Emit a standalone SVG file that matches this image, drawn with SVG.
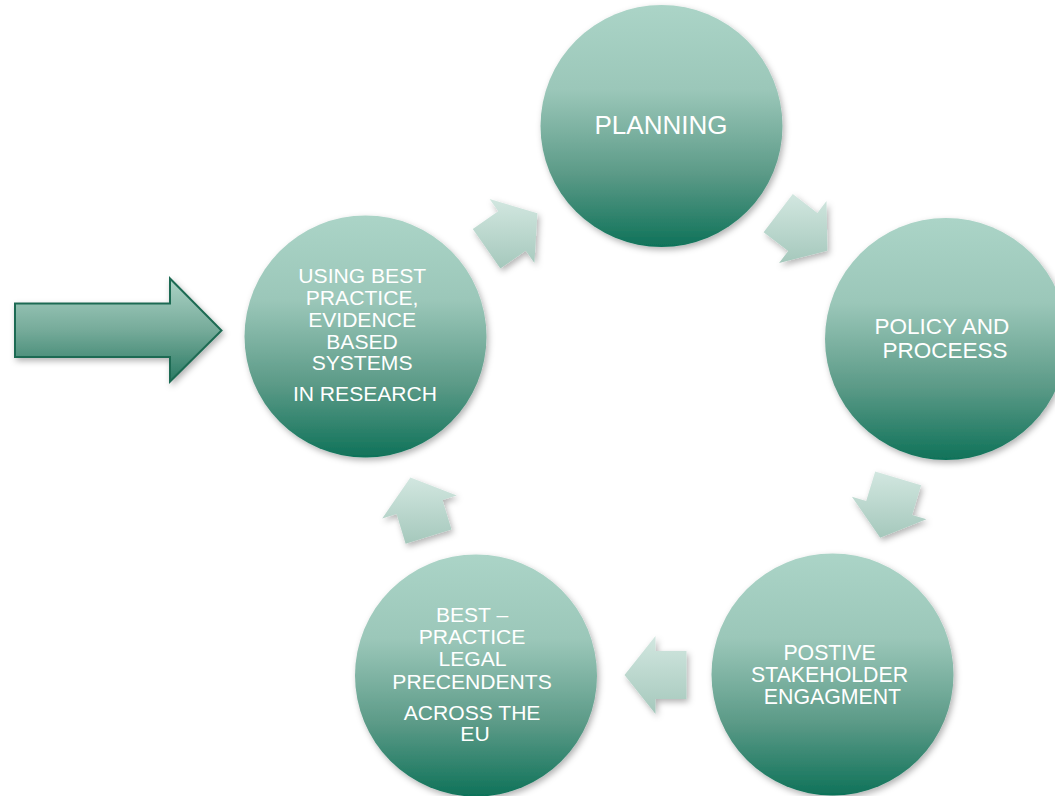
<svg xmlns="http://www.w3.org/2000/svg" width="1055" height="796" viewBox="0 0 1055 796">
<defs>
  <linearGradient id="gCircle" x1="0" y1="0" x2="0" y2="1">
    <stop offset="0" stop-color="#abd4c7"/>
    <stop offset="0.35" stop-color="#9bc7b9"/>
    <stop offset="0.7" stop-color="#5b9a87"/>
    <stop offset="1" stop-color="#0f7259"/>
  </linearGradient>
  <linearGradient id="gArrow" x1="0" y1="0" x2="0" y2="1">
    <stop offset="0" stop-color="#d2e7e0"/>
    <stop offset="1" stop-color="#a5c8bc"/>
  </linearGradient>
  <linearGradient id="gBig" x1="0" y1="0" x2="0" y2="1">
    <stop offset="0" stop-color="#acd3c6"/>
    <stop offset="0.5" stop-color="#76ab9a"/>
    <stop offset="1" stop-color="#2a7a63"/>
  </linearGradient>
  <filter id="shadow" x="-20%" y="-20%" width="140%" height="140%">
    <feDropShadow dx="2" dy="3" stdDeviation="3" flood-color="#000" flood-opacity="0.3"/>
  </filter>
</defs>
<style>
  .node circle { fill: url(#gCircle); filter: url(#shadow); }
  .node text { fill: #ffffff; font-family: "Liberation Sans", Arial, sans-serif; text-anchor: middle; }
  .arrow { fill: url(#gArrow); filter: url(#shadow); }
</style>
<rect width="1055" height="796" fill="#ffffff"/>

<g id="entry-arrow">
  <polygon points="15,303.5 170,303.5 170,278.5 221.5,330.5 170,381.5 170,357 15,357" fill="url(#gBig)" stroke="#1e6b53" stroke-width="2" filter="url(#shadow)"/>
</g>

<g id="connectors">
  <polygon class="arrow" points="472.8,229.1 498.2,211.3 489.6,199.0 537.4,213.2 534.4,263.0 525.8,250.7 500.4,268.4"/>
  <polygon class="arrow" points="792.8,194.1 817.4,212.9 826.5,201.0 827.4,250.8 779.1,263.0 788.2,251.1 763.6,232.2"/>
  <polygon class="arrow" points="921.1,485.3 912.2,514.9 926.5,519.3 880.2,537.7 851.9,496.7 866.2,501.1 875.2,471.4"/>
  <polygon class="arrow" points="686.5,699 655.5,699 655.5,714 624.5,675 655.5,636 655.5,651 686.5,651"/>
  <polygon class="arrow" points="405.6,543.7 396.6,514.0 382.2,518.4 410.4,477.4 456.8,495.6 442.5,500.0 451.5,529.6"/>
</g>

<g id="node-planning" class="node">
  <circle cx="661.5" cy="126" r="121"/>
  <text x="661" y="133.5" font-size="26">PLANNING</text>
</g>

<g id="node-policy" class="node">
  <circle cx="946" cy="339" r="121"/>
  <text font-size="22.5">
    <tspan x="945" y="333.5">POLICY AND</tspan>
    <tspan x="945" y="357.5">PROCEESS</tspan>
  </text>
</g>

<g id="node-stakeholder" class="node">
  <circle cx="832.5" cy="674.5" r="121"/>
  <text font-size="21.3">
    <tspan x="832.5" y="660">POSTIVE</tspan>
    <tspan x="832.5" y="682">STAKEHOLDER</tspan>
    <tspan x="832.5" y="704">ENGAGMENT</tspan>
  </text>
</g>

<g id="node-legal" class="node">
  <circle cx="476" cy="675.5" r="121"/>
  <text font-size="21.1">
    <tspan x="475" y="621.5">BEST –</tspan>
    <tspan x="475" y="644">PRACTICE</tspan>
    <tspan x="475" y="666">LEGAL</tspan>
    <tspan x="475" y="688.5">PRECENDENTS</tspan>
    <tspan x="475" y="719.5">ACROSS THE</tspan>
    <tspan x="475" y="740.5">EU</tspan>
  </text>
</g>

<g id="node-research" class="node">
  <circle cx="365.5" cy="336.5" r="121"/>
  <text font-size="21.1">
    <tspan x="365" y="282.5">USING BEST</tspan>
    <tspan x="365" y="304.5">PRACTICE,</tspan>
    <tspan x="365" y="326.5">EVIDENCE</tspan>
    <tspan x="365" y="348.5">BASED</tspan>
    <tspan x="365" y="370">SYSTEMS</tspan>
    <tspan x="365" y="401">IN RESEARCH</tspan>
  </text>
</g>
</svg>
